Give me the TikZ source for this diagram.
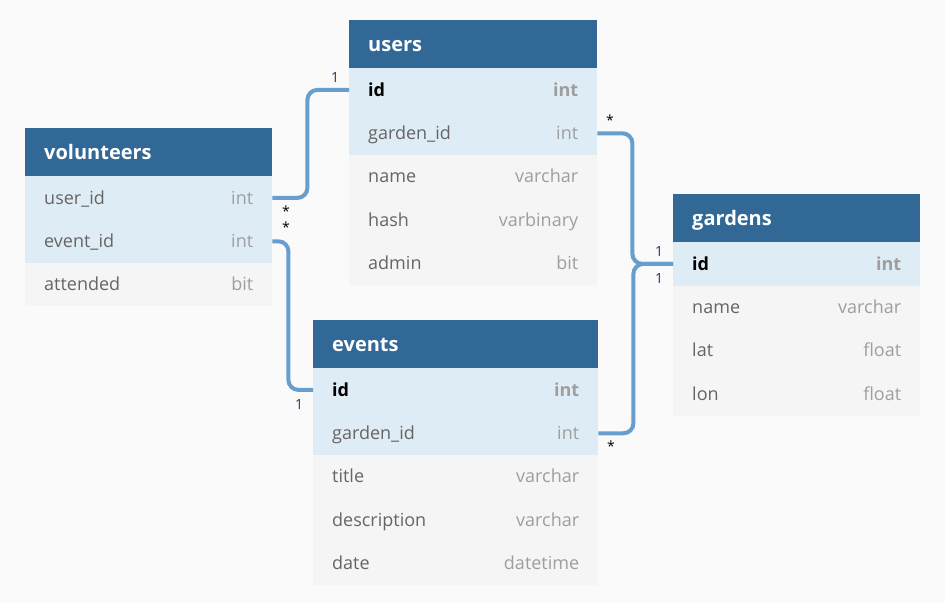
\documentclass[tikz,border=0pt]{standalone}
\usepackage{fontspec}
\setmainfont{Open Sans}
\usetikzlibrary{positioning}

\definecolor{hdrbg}{RGB}{49,104,150}
\definecolor{keybg}{RGB}{222,237,245}
\definecolor{rowbg}{RGB}{245,245,245}
\definecolor{pagebg}{RGB}{250,250,250}
\definecolor{linkblue}{RGB}{104,158,206}
\definecolor{colname}{RGB}{104,100,100}
\definecolor{coltype}{RGB}{158,158,158}
\definecolor{onecol}{RGB}{28,58,96}

\tikzset{
  cell/.style={anchor=north west, inner xsep=19pt, inner ysep=0pt,
    minimum height=43.4pt, text width=#1, align=left,
    text height=15pt, text depth=2.5pt,
    font=\fontsize{18}{21}\selectfont, text=colname},
  hdr/.style={cell=#1, minimum height=48pt, fill=hdrbg, text=white,
    text height=16pt, text depth=1.5pt,
    font=\fontsize{20}{23}\selectfont\bfseries},
  keyrow/.style={cell=#1, fill=keybg},
  plainrow/.style={cell=#1, fill=rowbg},
  link/.style={draw=linkblue, line width=4pt, rounded corners=10pt},
  card/.style={font=\fontsize{14}{16}\selectfont, inner sep=0pt},
}
\newcommand{\ctype}[1]{\hfill{\color{coltype}#1}}
\newcommand{\pkey}[2]{{\bfseries\color{black}#1}\hfill{\bfseries\color{coltype}#2}}

\begin{document}
\begin{tikzpicture}[x=1pt, y=-1pt]
  \fill[pagebg] (0,0) rectangle (945,603);
  \useasboundingbox (0,0) rectangle (945,603);

  % volunteers
  \draw
    (25,128) node[hdr=209pt] (vol) {volunteers}
    (25,176) node[keyrow=209pt] (vol-user) {user\_id\ctype{int}}
    (25,219.4) node[keyrow=209pt] (vol-event) {event\_id\ctype{int}}
    (25,262.8) node[plainrow=209pt] (vol-att) {attended\ctype{bit}};

  % users
  \draw
    (349,20) node[hdr=210pt] (users) {users}
    (349,68) node[keyrow=210pt] (users-id) {\pkey{id}{int}}
    (349,111.4) node[keyrow=210pt] (users-garden) {garden\_id\ctype{int}}
    (349,154.8) node[plainrow=210pt] (users-name) {name\ctype{varchar}}
    (349,198.2) node[plainrow=210pt] (users-hash) {hash\ctype{varbinary}}
    (349,241.6) node[plainrow=210pt] (users-admin) {admin\ctype{bit}};

  % gardens
  \draw
    (673,194) node[hdr=209pt] (gardens) {gardens}
    (673,242) node[keyrow=209pt] (gardens-id) {\pkey{id}{int}}
    (673,285.4) node[plainrow=209pt] (gardens-name) {name\ctype{varchar}}
    (673,328.8) node[plainrow=209pt] (gardens-lat) {lat\ctype{float}}
    (673,372.2) node[plainrow=209pt] (gardens-lon) {lon\ctype{float}};

  % events
  \draw
    (313,320) node[hdr=247pt] (events) {events}
    (313,368) node[keyrow=247pt] (events-id) {\pkey{id}{int}}
    (313,411.4) node[keyrow=247pt] (events-garden) {garden\_id\ctype{int}}
    (313,454.8) node[plainrow=247pt] (events-title) {title\ctype{varchar}}
    (313,498.2) node[plainrow=247pt] (events-desc) {description\ctype{varchar}}
    (313,541.6) node[plainrow=247pt] (events-date) {date\ctype{datetime}};

  % relations
  \begin{scope}[link]
    \draw (vol-user.east) -- ++(35,0) |- (users-id.west);
    \draw (vol-event.east) -- ++(16,0) |- (events-id.west);
    \draw (users-garden.east) -- ++(35,0) |- (gardens-id.west);
    \draw (events-garden.east) -- ++(35,0) |- (gardens-id.west);
  \end{scope}

  % cardinalities
  \node[card, text=onecol] (c-users) at (335,77) {1};
  \node[card] (m-vuser) at (286,211) {*};
  \node[card] (m-vevent) at (286,227) {*};
  \node[card, text=onecol] (c-events) at (299,404) {1};
  \node[card] (m-ugarden) at (610,120) {*};
  \node[card, text=onecol] (c-gardens1) at (659,251) {1};
  \node[card, text=onecol] (c-gardens2) at (659,278) {1};
  \node[card] (m-egarden) at (611,446) {*};
\end{tikzpicture}
\end{document}
